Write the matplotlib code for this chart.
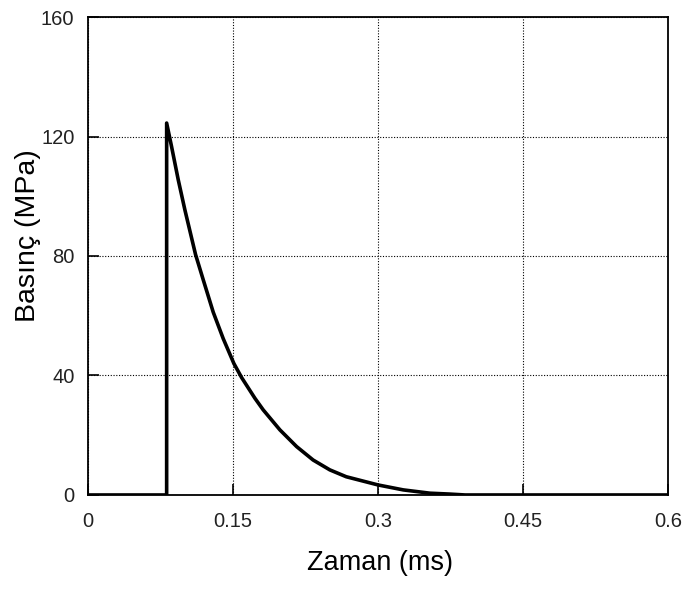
import matplotlib
matplotlib.use("Agg")
import matplotlib.pyplot as plt

plt.rcParams['font.family'] = ['Liberation Sans', 'DejaVu Sans']

# Data (time in ms, pressure in MPa)
time_ms = [0.0, 0.0811, 0.0811, 0.0862, 0.0931, 0.1000, 0.1110, 0.1190, 0.1293,
           0.1397, 0.1507, 0.1587, 0.1724, 0.1810, 0.1983, 0.2156, 0.2327,
           0.2500, 0.2670, 0.3000, 0.3260, 0.3535, 0.3740, 0.3900, 0.6]
pressure_mpa = [0.0, 0.0, 124.5, 116.6, 105.5, 95.4, 80.5, 72.0, 61.2,
                52.3, 44.0, 39.3, 32.4, 28.5, 21.8, 16.2, 11.7,
                8.4, 6.1, 3.35, 1.7, 0.6, 0.3, 0.0, 0.0]

x_ticks = [0, 0.15, 0.3, 0.45, 0.6]
x_tick_labels = ['0', '0.15', '0.3', '0.45', '0.6']
y_ticks = [0, 40, 80, 120, 160]
y_tick_labels = ['0', '40', '80', '120', '160']

fig = plt.figure(figsize=(6.86, 5.93), dpi=100)
ax = fig.add_axes([0.1287, 0.1653, 0.8451, 0.806])

ax.plot(time_ms, pressure_mpa, color='black', linewidth=2.6,
        solid_joinstyle='round')

ax.set_xlim(0, 0.6)
ax.set_ylim(0, 160)
ax.set_xticks(x_ticks)
ax.set_xticklabels(x_tick_labels)
ax.set_yticks(y_ticks)
ax.set_yticklabels(y_tick_labels)

ax.grid(True, color='black', linestyle=(0, (1, 1.5)), linewidth=0.8)
ax.tick_params(direction='in', length=8, width=1.2, labelsize=14.5,
               colors='black', labelcolor='#222222')
ax.tick_params(axis='x', pad=12)
ax.tick_params(axis='y', pad=10)
for s in ax.spines.values():
    s.set_linewidth(1.3)

ax.set_xlabel('Zaman (ms)', fontsize=19.5)
ax.set_ylabel('Basınç (MPa)', fontsize=20.5)
ax.xaxis.set_label_coords(0.503, -0.142)
ax.yaxis.set_label_coords(-0.104, 0.542)
ax.xaxis.label.set_va('center')
ax.yaxis.label.set_va('center')

fig.savefig('out.png', dpi=100)
